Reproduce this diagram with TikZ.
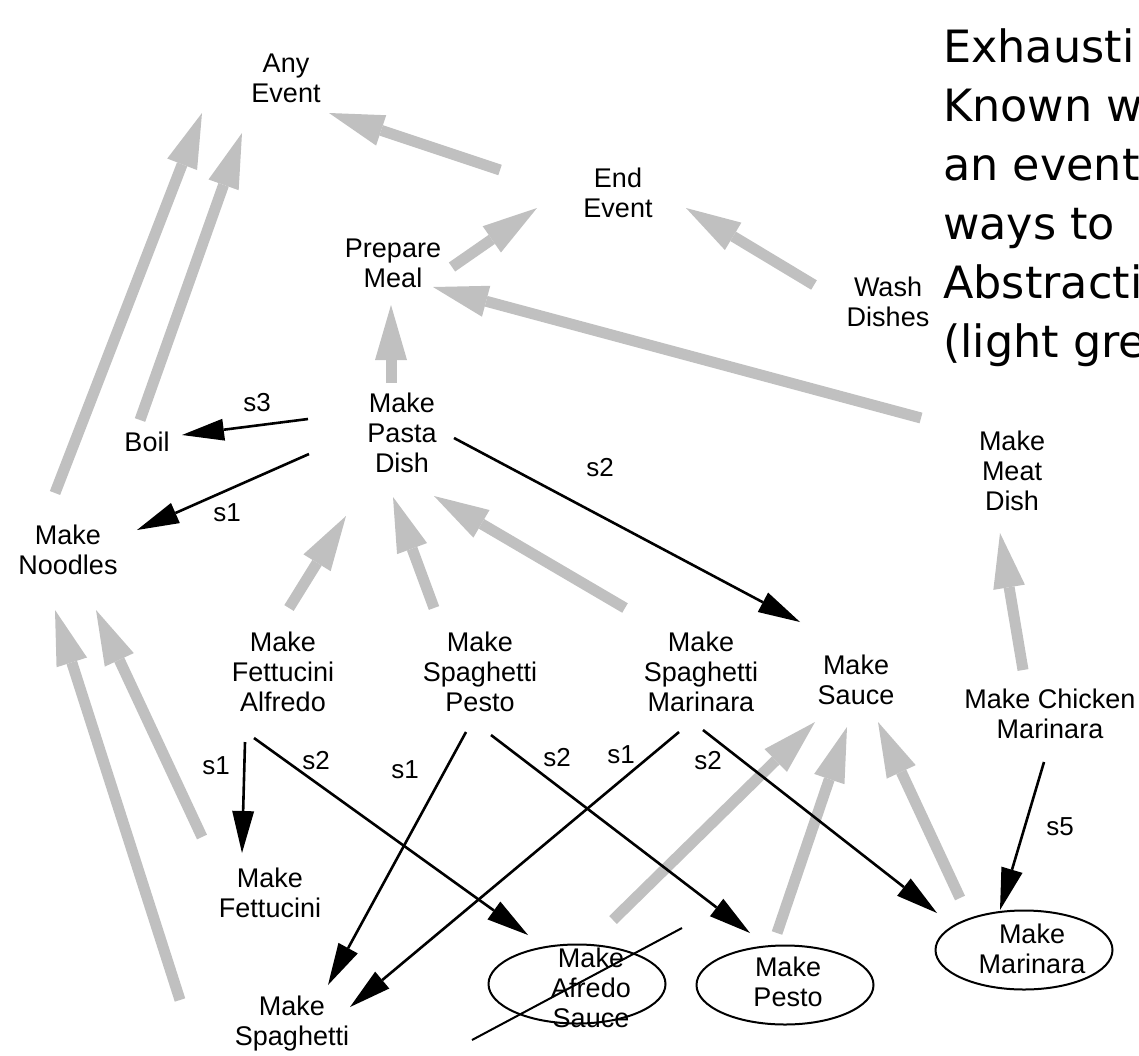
\documentclass[tikz,border=0pt]{standalone}
\usepackage{fontspec}
\setmainfont{Liberation Sans}
\newfontfamily\bigfont{DejaVu Sans}
\usetikzlibrary{arrows.meta,shapes.geometric,calc}
\definecolor{genc}{RGB}{192,192,192}
\begin{document}
\begin{tikzpicture}[x=1pt,y=-1pt,
  txt/.style={align=center,font=\fontsize{27}{30}\selectfont,inner sep=0pt},
  lab/.style={font=\fontsize{26}{30}\selectfont,inner sep=0pt},
  big/.style={font=\bigfont\fontsize{44.5}{57}\selectfont,inner sep=0pt,anchor=base west},
  gen/.style={draw=genc,line width=11pt,-{Triangle[length=55pt,width=32pt,line width=0pt,color=genc]}},
  spec/.style={draw=black,line width=2.6pt,-{Triangle[length=42pt,width=22pt,line width=0pt]}},
  ell/.style={ellipse,draw,line width=2pt,minimum width=177pt,minimum height=79pt,inner sep=0pt},
  strike/.style={draw=black,line width=2pt}]
\useasboundingbox (0,0) rectangle (1139,1055);

% text nodes
\node[txt] (any) at (286,78) {Any\\Event};
\node[txt] (endev) at (618,193) {End\\Event};
\node[txt] (prep) at (393,263) {Prepare\\Meal};
\node[txt] (wash) at (888,302) {Wash\\Dishes};
\node[txt] (pasta) at (402,433) {Make\\Pasta\\Dish};
\node[txt] (boil) at (147,442) {Boil};
\node[txt] (noodles) at (68,550) {Make\\Noodles};
\node[txt] (meat) at (1012,471) {Make\\Meat\\Dish};
\node[txt] (alfredo) at (283,672) {Make\\Fettucini\\Alfredo};
\node[txt] (pesto) at (480,672) {Make\\Spaghetti\\Pesto};
\node[txt] (marinara) at (701,672) {Make\\Spaghetti\\Marinara};
\node[txt] (sauce) at (856,680) {Make\\Sauce};
\node[txt] (chicken) at (1050,714) {Make Chicken\\Marinara};
\node[txt] (fettucini) at (270,893) {Make\\Fettucini};
\node[txt] (spaghetti) at (292,1024) {Make\\Spaghetti};
\node[ell] (afr) at (577,984) {};
\node[txt] (afrtext) at (591,988) {Make\\Afredo\\Sauce};
\node[ell] (pes) at (785,985) {};
\node[txt] (pestext) at (788,982) {Make\\Pesto};
\node[ell] (mar) at (1024,950) {};
\node[txt] (martext) at (1032,949) {Make\\Marinara};

% big text (cut by the right edge, as in the reference)
\node[big] (t1) at (943,62) {Exhausti};
\node[big] (t2) at (943,121) {Known w};
\node[big] (t3) at (943,180) {an event};
\node[big] (t4) at (943,239) {ways to};
\node[big] (t5) at (943,298) {Abstracti};
\node[big] (t6) at (943,357) {(light gre};

% grey abstraction arrows
\draw[gen] ($(noodles)+(-13,-57)$) -- ($(any)+(-84,35)$);
\draw[gen] ($(boil)+(-7,-22)$) -- ($(any)+(-44,55)$);
\draw[gen] ($(endev)+(-118,-23)$) -- ($(any)+(43,35)$);
\draw[gen] ($(prep)+(59,4)$) -- ($(endev)+(-81,15)$);
\draw[gen] ($(wash)+(-74,-17)$) -- ($(endev)+(68,15)$);
\draw[gen] ($(meat)+(-91,-53)$) -- ($(prep)+(40,24)$);
\draw[gen] ($(pasta)+(-11,-50)$) -- ($(prep)+(-2,42)$);
\draw[gen] ($(alfredo)+(6,-64)$) -- ($(pasta)+(-56,83)$);
\draw[gen] ($(pesto)+(-46,-64)$) -- ($(pasta)+(-9,64)$);
\draw[gen] ($(marinara)+(-76,-64)$) -- ($(pasta)+(32,63)$);
\draw[gen] ($(fettucini)+(-68,-56)$) -- ($(noodles)+(28,60)$);
\draw[gen] ($(spaghetti)+(-112,-24)$) -- ($(noodles)+(-13,60)$);
\draw[gen] ($(chicken)+(-27,-44)$) -- ($(meat)+(-12,62)$);
\draw[gen] ($(afr)+(36,-64)$) -- ($(sauce)+(-41,42)$);
\draw[gen] ($(pes)+(-8,-52)$) -- ($(sauce)+(-9,47)$);
\draw[gen] ($(mar)+(-64,-52)$) -- ($(sauce)+(22,42)$);

% black specialization arrows
\draw[spec] ($(pasta)+(-94,-14)$) -- ($(boil)+(35,-7)$);
\draw[spec] ($(pasta)+(-93,21)$) -- ($(noodles)+(69,-20)$);
\draw[spec] ($(pasta)+(52,5)$) -- ($(sauce)+(-56,-58)$);
\draw[spec] ($(alfredo)+(-38,70)$) -- ($(fettucini)+(-28,-40)$);
\draw[spec] ($(alfredo)+(-29,66)$) -- ($(afr)+(-49,-49)$);
\draw[spec] ($(pesto)+(-14,60)$) -- ($(spaghetti)+(36,-39)$);
\draw[spec] ($(pesto)+(11,63)$) -- ($(pes)+(-35,-52)$);
\draw[spec] ($(marinara)+(-22,60)$) -- ($(spaghetti)+(58,-17)$);
\draw[spec] ($(marinara)+(2,58)$) -- ($(mar)+(-87,-37)$);
\draw[spec] ($(chicken)+(-6,48)$) -- ($(mar)+(-24,-40)$);

% step labels
\node[lab] (ls3) at (257,403) {s3};
\node[lab] (ls1a) at (227,513) {s1};
\node[lab] (ls2a) at (600,468) {s2};
\node[lab] (ls1b) at (216,766) {s1};
\node[lab] (ls2b) at (316,761) {s2};
\node[lab] (ls1c) at (405,770) {s1};
\node[lab] (ls2c) at (557,758) {s2};
\node[lab] (ls1d) at (621,755) {s1};
\node[lab] (ls2d) at (708,761) {s2};
\node[lab] (ls5) at (1060,827) {s5};

% strike-through of Make Afredo Sauce
\draw[strike] ($(afr)+(-105,56)$) -- ($(afr)+(105,-56)$);
\end{tikzpicture}
\end{document}
